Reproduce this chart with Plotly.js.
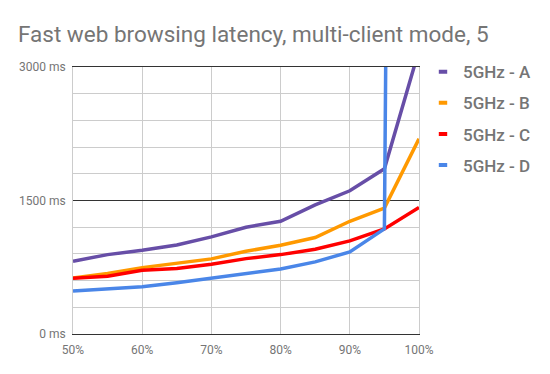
<!DOCTYPE html>
<html>
<head>
<meta charset="utf-8">
<script src="https://cdn.plot.ly/plotly-3.0.1.min.js"></script>
<style>html,body{margin:0;padding:0;background:#fff;}#chart{width:550px;height:374px;}</style>
</head>
<body>
<div id="chart"></div>
<script>
var percentiles = [50, 55, 60, 65, 70, 75, 80, 85, 90, 95, 100];
var seriesA = [817, 892, 941, 1001, 1091, 1200, 1267, 1451, 1609, 1856, 3190];
var seriesB = [630, 679, 746, 795, 844, 930, 997, 1084, 1267, 1414, 2194];
var seriesC = [626, 649, 716, 735, 784, 847, 892, 952, 1046, 1181, 1421];
var seriesD = [484, 510, 532, 577, 626, 682, 731, 810, 922, 1181, 50000];
var seriesNames = ['5GHz - A', '5GHz - B', '5GHz - C', '5GHz - D'];
var seriesColors = ['#674ea7', '#ff9900', '#ff0000', '#4a86e8'];
var xTickVals = [50, 60, 70, 80, 90, 100];
var xTickText = ['50%', '60%', '70%', '80%', '90%', '100%'];
var yTickVals = [0, 1500, 3000];
var yTickText = ['0 ms', '1500 ms', '3000 ms'];

var allSeries = [seriesA, seriesB, seriesC, seriesD];
var traces = [];
allSeries.forEach(function (vals, i) {
  traces.push({
    x: percentiles, y: vals, type: 'scatter', mode: 'lines',
    line: {color: seriesColors[i], width: 3.5},
    showlegend: false, hoverinfo: 'skip'
  });
});
allSeries.forEach(function (vals, i) {
  traces.push({
    x: [null], y: [null], type: 'scatter', mode: 'markers',
    name: seriesNames[i], legendgroup: 'g' + i,
    marker: {symbol: 'line-ew', size: 6, color: seriesColors[i], line: {color: seriesColors[i], width: 4}}
  });
});

var layout = {
  width: 550, height: 374,
  margin: {l: 73, r: 131, t: 67, b: 40},
  paper_bgcolor: '#ffffff', plot_bgcolor: '#ffffff',
  font: {family: 'Roboto, sans-serif', color: '#757575', size: 12},
  title: {
    text: 'Fast web browsing latency, multi-client mode, 5',
    font: {family: 'Roboto, sans-serif', size: 22.5, color: '#757575'},
    xref: 'container', x: 18 / 550, xanchor: 'left',
    yref: 'container', y: 1 - 42 / 374, yanchor: 'bottom'
  },
  xaxis: {
    range: [50, 100], tickmode: 'array', tickvals: xTickVals, ticktext: xTickText,
    showgrid: true, gridcolor: '#cccccc', gridwidth: 1,
    zeroline: false, showline: true, linecolor: '#333333', linewidth: 1, mirror: true,
    ticks: '', ticklabelstandoff: 5,
    tickfont: {size: 12, color: '#757575'}, fixedrange: true
  },
  yaxis: {
    range: [0, 3000], tickmode: 'array', tickvals: yTickVals, ticktext: yTickText,
    showgrid: true, gridcolor: '#333333', gridwidth: 1,
    minor: {dtick: 300, tick0: 0, showgrid: true, gridcolor: '#cccccc', gridwidth: 1, ticks: ''},
    zeroline: false, showline: true, linecolor: '#cccccc', linewidth: 1, mirror: true,
    ticks: '', ticklabelstandoff: 4,
    tickfont: {size: 12, color: '#757575'}, fixedrange: true
  },
  legend: {
    x: (423 - 73) / 346, xanchor: 'left', y: 1.048, yanchor: 'top',
    traceorder: 'grouped', tracegroupgap: 6,
    font: {family: 'Roboto, sans-serif', size: 17, color: '#757575', weight: 500},
    bgcolor: 'rgba(0,0,0,0)', borderwidth: 0
  },
  showlegend: true
};

Plotly.newPlot('chart', traces, layout, {displayModeBar: false, staticPlot: true});
</script>
</body>
</html>
